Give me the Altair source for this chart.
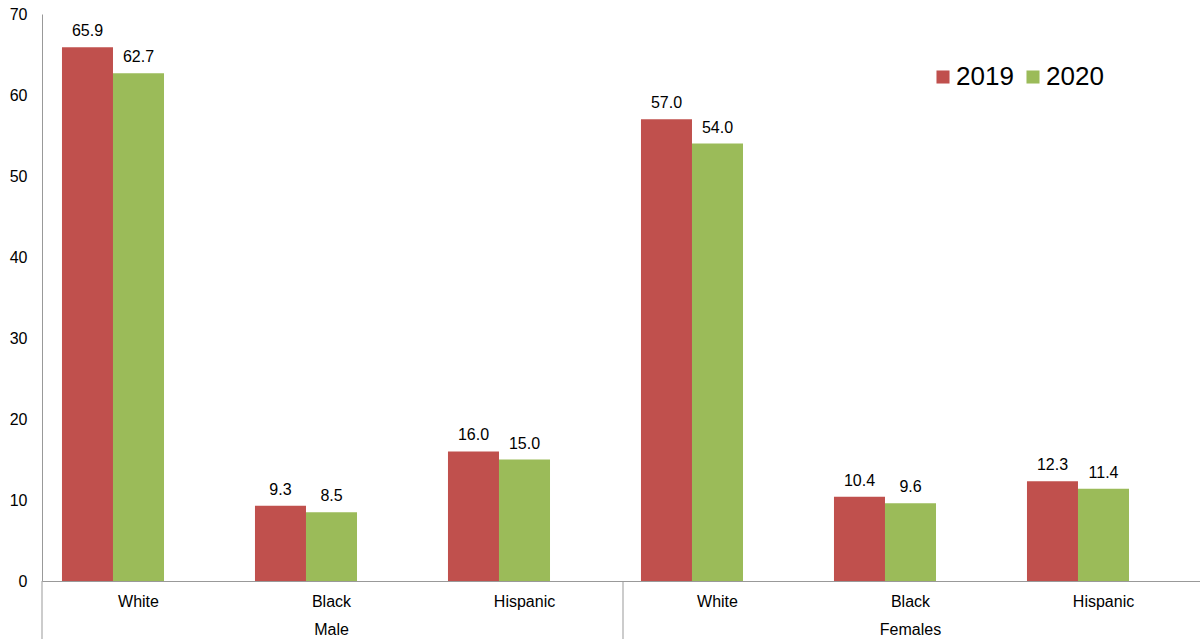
import altair as alt
import pandas as pd

groups = ["Male", "Male", "Male", "Females", "Females", "Females"]
races = ["White", "Black", "Hispanic", "White", "Black", "Hispanic"]
v2019 = [65.9, 9.3, 16.0, 57.0, 10.4, 12.3]
v2020 = [62.7, 8.5, 15.0, 54.0, 9.6, 11.4]
series = ["2019", "2020"]
colors = ["#C0504D", "#9BBB59"]

rows = []
for g, r, a, b in zip(groups, races, v2019, v2020):
    cat = f"{g}|{r}"
    rows.append({"cat": cat, "series": "2019", "value": a, "label": f"{a:.1f}"})
    rows.append({"cat": cat, "series": "2020", "value": b, "label": f"{b:.1f}"})
df = pd.DataFrame(rows)
cats = [f"{g}|{r}" for g, r in zip(groups, races)]

W, H = 1158, 567
FONT = "Liberation Sans"

xscale = alt.Scale(domain=cats, paddingInner=0.207, paddingOuter=0.1035)
x = alt.X("cat:N", sort=cats, title=None, scale=xscale,
          axis=alt.Axis(labelExpr="split(datum.value, '|')[1]", labelAngle=0,
                        ticks=False, labelFontSize=16, labelPadding=12,
                        labelColor="black", domainColor="#999999", labelFont=FONT))
xo = alt.XOffset("series:N", scale=alt.Scale(domain=["2019", "2020", "_"], paddingInner=0))
y = alt.Y("value:Q", title=None,
          scale=alt.Scale(domain=[0, 70], nice=False),
          axis=alt.Axis(values=list(range(0, 71, 10)), grid=False, ticks=False,
                        labelFontSize=16, labelPadding=15, labelColor="black",
                        domainColor="#999999", labelFont=FONT))

base = alt.Chart(df)
bars = base.mark_bar().encode(
    x=x, xOffset=xo, y=y,
    color=alt.Color("series:N", scale=alt.Scale(domain=series, range=colors), title=None,
                    legend=alt.Legend(orient="none", legendX=888, legendY=50,
                                      direction="horizontal", symbolType="square",
                                      symbolSize=170, symbolStrokeWidth=0,
                                      labelFontSize=26, labelFont=FONT, labelColor="black",
                                      labelOffset=0, columnPadding=6, padding=0)))
texts = base.mark_text(dy=-16, fontSize=16, font=FONT, color="black").encode(
    x=x, xOffset=xo, y=y, text="label:N")

glabels = alt.Chart(pd.DataFrame({"cat": ["Male|Black", "Females|Black"],
                                  "g": ["Male", "Females"]})).mark_text(
    fontSize=16, font=FONT, color="black").encode(
    x=alt.X("cat:N", sort=cats, scale=xscale, title=None),
    y=alt.value(H + 49), text="g:N")

sep = alt.Chart(pd.DataFrame({"k": [0]})).mark_rule(color="#999999").encode(
    x=alt.value(W / 2 + 2), y=alt.value(H), y2=alt.value(H + 58))
yext = alt.Chart(pd.DataFrame({"k": [0]})).mark_rule(color="#999999").encode(
    x=alt.value(0), y=alt.value(H), y2=alt.value(H + 58))

chart = alt.layer(bars, texts, glabels, sep, yext).properties(
    width=W, height=H,
    autosize=alt.AutoSizeParams(type="none"),
    padding={"left": 42, "top": 14, "right": 0, "bottom": 58},
).configure_view(stroke=None)

chart.save("out.html", embed_options={"renderer": "svg", "actions": False})
